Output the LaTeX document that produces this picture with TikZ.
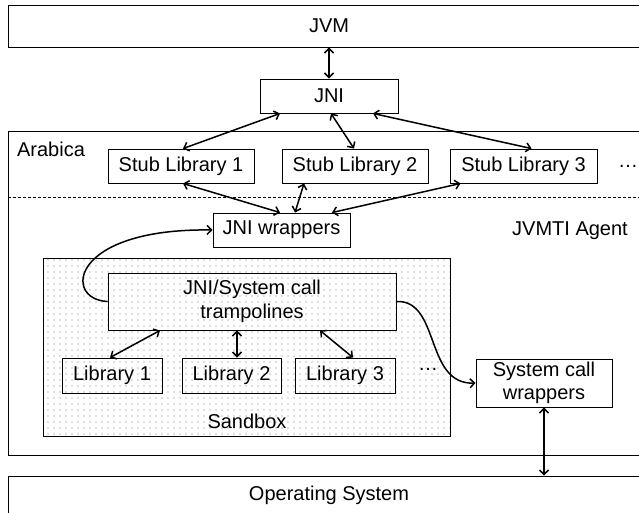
\documentclass[tikz,border=0pt]{standalone}
\usepackage{fontspec}
\setmainfont{Liberation Sans}
\usetikzlibrary{arrows.meta,patterns.meta,calc}
\begin{document}
\begin{tikzpicture}[x=1pt,y=-1pt,
  txt/.style={font=\fontsize{20}{23.5}\selectfont},
  box/.style={txt,draw=black,line width=0.9pt,inner sep=0pt,align=center},
  lbl/.style={txt,inner sep=0pt,align=center},
  both/.style={line width=1.5pt,{Straight Barb[length=4.5pt,width=9pt]}-{Straight Barb[length=4.5pt,width=9pt]}},
  one/.style={line width=1.5pt,-{Straight Barb[length=4.5pt,width=9pt]}}
]
\useasboundingbox (0,0) rectangle (639,512);

% outer layers
\node[box,minimum width=642pt,minimum height=42pt] (jvm) at (329,26) {JVM};
\node[box,minimum width=642pt,minimum height=324pt] (arabica) at (329,293) {};
\node[lbl] (arabicalbl) at (51,149) {Arabica};
\coordinate (dashL) at (8,197);
\coordinate (dashR) at (652,197);
\draw[line width=0.7pt,dash pattern=on 3pt off 2pt] (dashL) -- (dashR);
\node[box,minimum width=642pt,minimum height=38pt] (os) at (329,495) {Operating System};

% sandbox
\node[draw=black,line width=0.9pt,pattern={Dots[distance=6pt,radius=0.55pt]},pattern color=black!55,minimum width=407pt,minimum height=178pt,inner sep=0pt] (sandbox) at (246.5,347) {};
\node[lbl] (sandboxlbl) at (247,421) {Sandbox};

% boxes
\node[box,minimum width=138pt,minimum height=34pt] (jni) at (329,96) {JNI};
\node[box,minimum width=146pt,minimum height=34pt] (stub1) at (181,166) {Stub Library 1};
\node[box,minimum width=146pt,minimum height=34pt] (stub2) at (355,166) {Stub Library 2};
\node[box,minimum width=147pt,minimum height=34pt] (stub3) at (523.5,166) {Stub Library 3};
\node[lbl] (dots1) at (628,166) {\dots};
\node[box,minimum width=137pt,minimum height=34pt] (jniw) at (281.5,230) {JNI wrappers};
\node[lbl] (jvmti) at (570,231) {JVMTI Agent};
\node[box,minimum width=288pt,minimum height=57pt] (tramp) at (252,301.5) {JNI/System call\\trampolines};
\node[box,minimum width=100pt,minimum height=35pt] (lib1) at (112,375.5) {Library 1};
\node[box,minimum width=99pt,minimum height=35pt] (lib2) at (231.5,375.5) {Library 2};
\node[box,minimum width=100pt,minimum height=35pt] (lib3) at (345,375.5) {Library 3};
\node[lbl] (dots2) at (428,369) {\dots};
\node[box,minimum width=136pt,minimum height=48pt] (syswrap) at (544,383) {System call\\wrappers};

% connectors
\draw[both] (jvm.south) -- (jni.north);
\draw[both] ([xshift=-49pt]jni.south) -- ([xshift=2pt]stub1.north);
\draw[both] ([xshift=2pt]jni.south) -- ([xshift=-1pt]stub2.north);
\draw[both] ([xshift=44pt]jni.south) -- ([xshift=8pt]stub3.north);
\draw[both] ([xshift=2pt]stub1.south) -- ([xshift=-1.5pt]jniw.north);
\draw[both] ([xshift=-51pt]stub2.south) -- ([xshift=13.5pt]jniw.north);
\draw[both] ([xshift=-63pt]stub3.south) -- ([xshift=50.5pt]jniw.north);
\draw[one] (tramp.west) .. controls +(-45,-2) and +(-143,-2) .. (jniw.west);
\draw[both] ([xshift=-92pt]tramp.south) -- ([xshift=-2pt]lib1.north);
\draw[both] ([xshift=-15pt]tramp.south) -- ([xshift=5.5pt]lib2.north);
\draw[both] ([xshift=68pt]tramp.south) -- ([xshift=8pt]lib3.north);
\draw[one] (tramp.east) .. controls +(44,-2) and +(-51,2) .. (syswrap.west);
\draw[both] (syswrap.south) -- (syswrap.south |- os.north);
\end{tikzpicture}
\end{document}
